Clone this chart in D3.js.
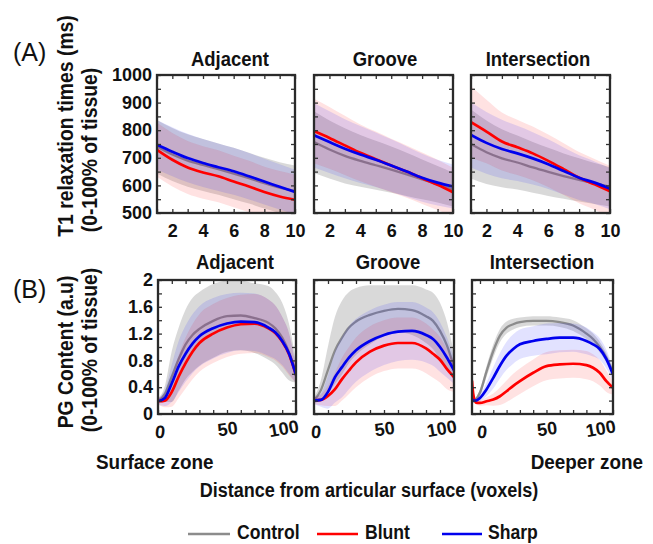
<!DOCTYPE html>
<html><head><meta charset="utf-8">
<script src="https://cdn.jsdelivr.net/npm/d3@7/dist/d3.min.js"></script>
<style>
body{margin:0;background:#fff;}
svg{display:block;font-family:"Liberation Sans",Arial,Helvetica,sans-serif;}
</style></head>
<body>
<script>
// ---------------- DATA ----------------
const panelTitles = ["Adjacent", "Groove", "Intersection"];
const seriesNames = ["Control", "Blunt", "Sharp"];

// (A) T1 relaxation times, x = 1..10
const t1X = [1,2,3,4,5,6,7,8,9,10];
const t1Ticks = [2,4,6,8,10];
const t1YTicks = [500,600,700,800,900,1000];

const t1AdjControl = [740,712,690,674,659,643,626,608,592,580];
const t1AdjControlSD = [97,96,95,94,93,93,92,92,92,92];
const t1AdjBlunt = [729,693,665,647,633,614,596,576,560,548];
const t1AdjBluntSD = [98,97,96,95,94,93,93,92,92,91];
const t1AdjSharp = [747,722,699,681,666,651,633,614,595,576];
const t1AdjSharpSD = [90,89,88,87,86,85,84,83,82,81];

const t1GroControl = [757,730,707,689,673,657,640,622,604,585];
const t1GroControlSD = [112,105,100,94,89,84,78,72,66,61];
const t1GroBlunt = [797,772,745,718,695,672,650,626,602,575];
const t1GroBluntSD = [117,112,107,103,100,97,95,93,91,89];
const t1GroSharp = [782,757,733,712,693,672,650,628,610,596];
const t1GroSharpSD = [117,112,107,103,99,95,91,87,83,80];

const t1IntControl = [750,720,698,683,665,649,634,620,607,595];
const t1IntControlSD = [125,115,105,98,92,87,82,78,74,71];
const t1IntBlunt = [829,795,759,738,716,689,659,628,604,579];
const t1IntBluntSD = [130,115,105,100,97,95,94,93,92,92];
const t1IntSharp = [783,754,732,716,698,677,652,628,610,588];
const t1IntSharpSD = [118,112,106,100,95,90,85,81,77,74];

// (B) PG content, x = 0..100
const pgX = [0,5,10,15,20,25,30,40,50,60,70,80,85,90,95,100];
const pgXInt = [-6,-5,-3,0,5,10,15,20,25,30,40,50,60,70,80,85,90,95,100];
const pgXTicks = [0,50,100];
const pgYTicks = [0,0.4,0.8,1.2,1.6,2];

const pgAdjControl = [0.19,0.30,0.56,0.82,1.04,1.18,1.27,1.39,1.46,1.47,1.43,1.36,1.28,1.14,0.92,0.62];
const pgAdjControlSD = [0.04,0.12,0.38,0.47,0.52,0.55,0.55,0.55,0.53,0.52,0.52,0.55,0.54,0.52,0.42,0.15];
const pgAdjBlunt = [0.19,0.20,0.33,0.56,0.76,0.93,1.06,1.20,1.29,1.34,1.35,1.28,1.21,1.08,0.89,0.58];
const pgAdjBluntSD = [0.05,0.10,0.22,0.32,0.38,0.41,0.43,0.44,0.44,0.44,0.44,0.43,0.41,0.37,0.31,0.12];
const pgAdjSharp = [0.19,0.24,0.46,0.71,0.90,1.05,1.16,1.28,1.35,1.38,1.37,1.29,1.22,1.09,0.90,0.58];
const pgAdjSharpSD = [0.05,0.12,0.28,0.38,0.42,0.44,0.45,0.45,0.44,0.43,0.43,0.42,0.40,0.36,0.30,0.12];

const pgGroControl = [0.20,0.36,0.66,0.95,1.14,1.29,1.38,1.48,1.54,1.57,1.55,1.46,1.39,1.24,1.02,0.70];
const pgGroControlSD = [0.04,0.15,0.35,0.50,0.55,0.53,0.50,0.44,0.38,0.35,0.37,0.40,0.42,0.42,0.35,0.20];
const pgGroBlunt = [0.20,0.21,0.27,0.37,0.52,0.65,0.77,0.93,1.02,1.06,1.06,0.98,0.90,0.81,0.67,0.55];
const pgGroBluntSD = [0.05,0.08,0.15,0.25,0.32,0.35,0.37,0.38,0.38,0.38,0.38,0.37,0.36,0.34,0.30,0.22];
const pgGroSharp = [0.20,0.21,0.33,0.55,0.70,0.84,0.95,1.09,1.18,1.23,1.24,1.18,1.12,1.00,0.84,0.65];
const pgGroSharpSD = [0.05,0.10,0.25,0.38,0.45,0.47,0.47,0.46,0.45,0.44,0.43,0.41,0.40,0.37,0.30,0.20];

const pgIntControl = [0.18,0.19,0.22,0.32,0.64,0.94,1.17,1.29,1.34,1.37,1.39,1.39,1.37,1.32,1.20,1.12,1.00,0.84,0.62];
const pgIntControlSD = [0.02,0.02,0.03,0.05,0.08,0.10,0.10,0.09,0.08,0.07,0.07,0.07,0.07,0.08,0.08,0.08,0.08,0.07,0.05];
const pgIntBlunt = [0.50,0.29,0.17,0.165,0.19,0.215,0.265,0.34,0.42,0.49,0.615,0.715,0.74,0.75,0.73,0.69,0.615,0.49,0.39];
const pgIntBluntSD = [0.05,0.04,0.03,0.04,0.06,0.09,0.13,0.16,0.18,0.19,0.20,0.21,0.21,0.21,0.21,0.20,0.19,0.16,0.10];
const pgIntSharp = [0.22,0.20,0.20,0.24,0.37,0.54,0.72,0.87,0.97,1.04,1.09,1.12,1.14,1.14,1.09,1.04,0.97,0.82,0.59];
const pgIntSharpSD = [0.02,0.02,0.03,0.05,0.10,0.16,0.19,0.21,0.22,0.22,0.22,0.23,0.22,0.21,0.20,0.18,0.16,0.14,0.10];

// ---------------- STYLE ----------------
const lineColors = ["#8c8c8c", "#ff0000", "#0000ee"];
const bandColors = ["#8a8a8a", "#ff2020", "#2020ff"];
const bandOpacity = [0.32, 0.13, 0.13];
const CX = 0.88; // horizontal condensing for label text

const W = 653, H = 544;
const svg = d3.select("body").append("svg").attr("width", W).attr("height", H);

function ctext(str, x, y, size, opts = {}) {
  const t = svg.append("text")
    .attr("transform", `translate(${x},${y}) rotate(${opts.rot || 0}) scale(${opts.sx || CX},1)`)
    .attr("text-anchor", opts.anchor || "middle")
    .style("font-size", size + "px")
    .style("font-weight", opts.weight || "bold")
    .attr("fill", "#111")
    .text(str);
  return t;
}

function panel(cfg) {
  const x = d3.scaleLinear().domain(cfg.xDomain).range([cfg.x0, cfg.x1]);
  const y = d3.scaleLinear().domain(cfg.yDomain).range([cfg.y1, cfg.y0]);
  const g = svg.append("g");
  const clipId = "clip" + cfg.id;
  svg.append("clipPath").attr("id", clipId).append("rect")
    .attr("x", cfg.x0).attr("y", cfg.y0).attr("width", cfg.x1 - cfg.x0).attr("height", cfg.y1 - cfg.y0);
  const plot = g.append("g").attr("clip-path", `url(#${clipId})`);
  const curve = d3.curveMonotoneX;
  const band = i => {
    const s = cfg.series[i];
    const pts = cfg.xs.map((xv, k) => ({x: xv, m: s.mean[k], sd: s.sd[k]}));
    const area = d3.area().curve(curve).x(d => x(d.x)).y0(d => y(d.m - d.sd)).y1(d => y(d.m + d.sd));
    plot.append("path").datum(pts).attr("d", area)
      .attr("fill", bandColors[i]).attr("fill-opacity", bandOpacity[i]);
  };
  const ln = i => {
    const s = cfg.series[i];
    const pts = cfg.xs.map((xv, k) => ({x: xv, m: s.mean[k]}));
    const line = d3.line().curve(curve).x(d => x(d.x)).y(d => y(d.m));
    plot.append("path").datum(pts).attr("d", line)
      .attr("fill", "none").attr("stroke", lineColors[i])
      .attr("stroke-width", i === 0 ? 2.3 : 2.7);
  };
  // drawing order: control band + line, then blunt/sharp bands, then blunt/sharp lines
  band(0); ln(0); band(1); band(2); ln(1); ln(2);

  // inner ticks on all sides
  const tk = (axis, tx, ty) => {
    const a = g.append("g").attr("transform", `translate(${tx},${ty})`).call(axis);
    a.select(".domain").remove();
    a.selectAll("line").attr("stroke", "#333").attr("stroke-width", 1.3);
    a.selectAll("text").remove();
  };
  tk(d3.axisBottom(x).tickValues(cfg.xMinor).tickSize(-4), 0, cfg.y1);
  tk(d3.axisTop(x).tickValues(cfg.xMinor).tickSize(-4), 0, cfg.y0);
  tk(d3.axisLeft(y).tickValues(cfg.yMinor).tickSize(-4), cfg.x0, 0);
  tk(d3.axisRight(y).tickValues(cfg.yMinor).tickSize(-4), cfg.x1, 0);
  g.append("rect").attr("x", cfg.x0).attr("y", cfg.y0)
    .attr("width", cfg.x1 - cfg.x0).attr("height", cfg.y1 - cfg.y0)
    .attr("fill", "none").attr("stroke", "#2a2a2a").attr("stroke-width", 2.3);

  // x tick labels
  const xl = g.append("g").attr("transform", `translate(0,${cfg.y1})`)
    .call(d3.axisBottom(x).tickValues(cfg.xTicks).tickSize(0).tickPadding(0).tickFormat(d3.format("d")));
  xl.select(".domain").remove();
  xl.selectAll("text").attr("y", 0).attr("dy", null)
    .style("font-size", "18px").style("font-weight", "bold")
    .attr("fill", "#111").attr("font-family", null);
  if (cfg.rotX) {
    xl.selectAll(".tick").each(function(d, k) {
      const t = d3.select(this).select("text");
      const off = cfg.rotX[k];
      t.attr("text-anchor", off.anchor).attr("transform", `translate(${off.dx},${off.dy}) rotate(${off.rot})`);
    });
  } else {
    xl.selectAll("text").attr("transform", `translate(0,${cfg.xLabelDy})`);
  }
  // y tick labels
  if (cfg.yLabels) {
    const yl = g.append("g").attr("transform", `translate(${cfg.x0 - 5},0)`)
      .call(d3.axisLeft(y).tickValues(cfg.yTicks).tickSize(0).tickPadding(0).tickFormat(cfg.yFmt));
    yl.select(".domain").remove();
    yl.selectAll("text").style("font-size", "18px").style("font-weight", "bold")
      .attr("fill", "#111").attr("font-family", null);
  }
  ctext(cfg.title, cfg.titleX, cfg.titleY, 21);
}

const topX = [[157,295],[314,453],[471,610]];
const botX = [[158,296],[314,454],[472,613]];
const t1Data = [
  [t1AdjControl, t1AdjControlSD, t1AdjBlunt, t1AdjBluntSD, t1AdjSharp, t1AdjSharpSD],
  [t1GroControl, t1GroControlSD, t1GroBlunt, t1GroBluntSD, t1GroSharp, t1GroSharpSD],
  [t1IntControl, t1IntControlSD, t1IntBlunt, t1IntBluntSD, t1IntSharp, t1IntSharpSD]
];
const pgData = [
  [pgAdjControl, pgAdjControlSD, pgAdjBlunt, pgAdjBluntSD, pgAdjSharp, pgAdjSharpSD],
  [pgGroControl, pgGroControlSD, pgGroBlunt, pgGroBluntSD, pgGroSharp, pgGroSharpSD],
  [pgIntControl, pgIntControlSD, pgIntBlunt, pgIntBluntSD, pgIntSharp, pgIntSharpSD]
];
const pgXDomains = [[0,100],[0,100],[-6,100]];
const pgXsets = [pgX, pgX, pgXInt];
const topTitleX = [230, 385, 538];
const botTitleX = [235, 388, 542];

for (let p = 0; p < 3; p++) {
  const d = t1Data[p];
  panel({
    id: "t" + p, x0: topX[p][0], x1: topX[p][1], y0: 75, y1: 213,
    xDomain: [1,10], yDomain: [500,1000], xs: t1X,
    series: [{mean: d[0], sd: d[1]}, {mean: d[2], sd: d[3]}, {mean: d[4], sd: d[5]}],
    xMinor: d3.range(1, 11), yMinor: d3.range(500, 1001, 50),
    xTicks: t1Ticks, xLabelDy: 24, yLabels: p === 0, yTicks: t1YTicks, yFmt: d3.format("d"),
    title: panelTitles[p], titleX: topTitleX[p], titleY: 66
  });
}
for (let p = 0; p < 3; p++) {
  const d = pgData[p];
  panel({
    id: "b" + p, x0: botX[p][0], x1: botX[p][1], y0: 280, y1: 414,
    xDomain: pgXDomains[p], yDomain: [0,2], xs: pgXsets[p],
    series: [{mean: d[0], sd: d[1]}, {mean: d[2], sd: d[3]}, {mean: d[4], sd: d[5]}],
    xMinor: d3.range(0, 101, 10), yMinor: d3.range(0, 2.01, 0.2),
    xTicks: pgXTicks,
    rotX: [{anchor: "middle", dx: 1, dy: 24, rot: 6}, {anchor: "middle", dx: 1, dy: 21, rot: -8}, {anchor: "end", dx: 3, dy: 18, rot: -10}],
    yLabels: p === 0, yTicks: pgYTicks, yFmt: v => (v === 0 || v === 2) ? String(v) : d3.format(".1f")(v),
    title: panelTitles[p], titleX: botTitleX[p], titleY: 269
  });
}

// panel letters
ctext("(A)", 13, 61, 25, {anchor: "start", weight: "normal", sx: 1});
ctext("(B)", 13, 298, 25, {anchor: "start", weight: "normal", sx: 1});

// y-axis titles
ctext("T1 relaxation times (ms)", 73, 126, 22, {rot: -90});
ctext("(0-100% of tissue)", 97, 150, 22, {rot: -90});
ctext("PG Content (a.u)", 73, 352, 22, {rot: -90});
ctext("(0-100% of tissue)", 97, 350, 22, {rot: -90});

// bottom annotations
ctext("Surface zone", 96, 469, 21, {anchor: "start", sx: 0.9});
ctext("Deeper zone", 643, 469, 21, {anchor: "end", sx: 0.9});
ctext("Distance from articular surface (voxels)", 369, 497, 20.5);

// legend
const legX = [[188,230,237],[317,358,365],[442,482,488]];
seriesNames.forEach((n, i) => {
  svg.append("line").attr("x1", legX[i][0]).attr("x2", legX[i][1]).attr("y1", 534).attr("y2", 534)
    .attr("stroke", lineColors[i]).attr("stroke-width", 2.6);
  ctext(n, legX[i][2], 539, 20, {anchor: "start"});
});
</script>
</body></html>
